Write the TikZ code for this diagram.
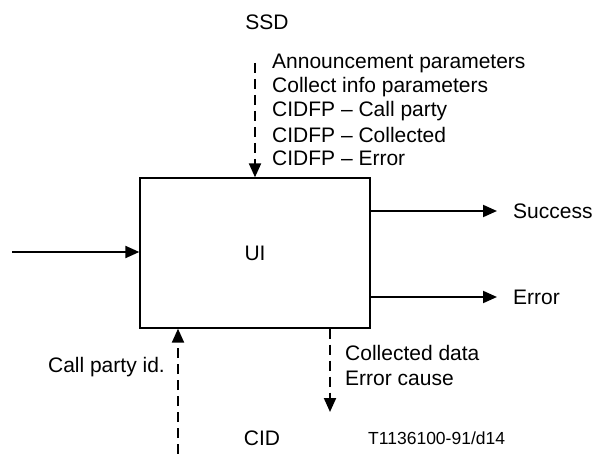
\documentclass[tikz,border=0pt]{standalone}
\usepackage{fontspec}
\setmainfont{Liberation Sans}
\usetikzlibrary{arrows.meta}
\begin{document}
\begin{tikzpicture}[x=1pt,y=-1pt,
  font=\fontsize{21}{24}\selectfont,
  flow/.style={line width=2pt,-{Triangle[length=14pt,width=12pt]}},
  dflow/.style={flow,dash pattern=on 10pt off 6pt},
  lbl/.style={inner sep=0pt,anchor=west},
  blk/.style={draw,line width=1.3pt,minimum width=230pt,minimum height=150pt,inner sep=0pt}]
\useasboundingbox (0,0) rectangle (593,454);
\node[blk] (ui) at (255,253) {UI};
% top input
\node[inner sep=0pt] (ssd) at (267,22) {SSD};
\coordinate (ssdin) at (255,63);
\draw[dflow] (ssdin) -- (ui.north);
\node[lbl] (t1) at (272,63) {Announcement parameters};
\node[lbl] (t2) at (272,87) {Collect info parameters};
\node[lbl] (t3) at (272,111) {CIDFP – Call party};
\node[lbl] (t4) at (272,135) {CIDFP – Collected};
\node[lbl] (t5) at (272,158) {CIDFP – Error};
% left input
\coordinate (lin) at (12,252);
\draw[flow] (lin) -- (lin -| ui.west);
% outputs
\coordinate (sout) at (497,211);
\coordinate (eout) at (497,297);
\draw[flow] (sout -| ui.east) -- (sout);
\draw[flow] (eout -| ui.east) -- (eout);
\node[lbl] (succ) at (513,211) {Success};
\node[lbl] (err) at (513,297) {Error};
% bottom
\coordinate (cpin) at (178,454);
\draw[dflow] (cpin) -- (cpin |- ui.south);
\node[inner sep=0pt,anchor=east] (cpid) at (165,367) {Call party id.};
\coordinate (cdout) at (330,412);
\draw[dflow] (cdout |- ui.south) -- (cdout);
\node[lbl] (cd) at (345,353) {Collected data};
\node[lbl] (ec) at (345,378) {Error cause};
\node[inner sep=0pt] (cid) at (262,438) {CID};
\node[lbl,font=\fontsize{17.5}{20}\selectfont] (ref) at (368,438) {T1136100-91/d14};
\end{tikzpicture}
\end{document}
